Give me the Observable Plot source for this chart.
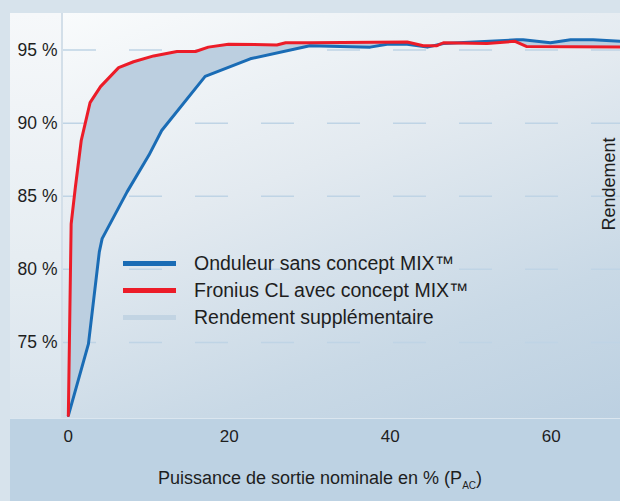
<!DOCTYPE html>
<html><head><meta charset="utf-8">
<script src="https://cdn.jsdelivr.net/npm/d3@7"></script>
<script src="https://cdn.jsdelivr.net/npm/@observablehq/plot@0.6"></script>
<style>
html,body{margin:0;padding:0;background:#d7e3ec;}
#wrap{position:relative;width:620px;height:501px;overflow:hidden;font-family:"Liberation Sans",Arial,sans-serif;color:#1e1e1e;background:#d7e3ec;}
#panel{position:absolute;left:63px;top:13px;width:557px;height:405px;background:linear-gradient(160deg,#f9fbfc 0%,#e3eaf0 40%,#c9d9e6 75%,#bcd0e1 100%);}
#col{position:absolute;left:10px;top:13px;width:51px;height:405px;background:linear-gradient(180deg,#f6f8fa 0%,#e6edf2 60%,#d9e4ed 100%);}
#sep{position:absolute;left:61px;top:13px;width:2px;height:405px;background:#d3dfe9;}
#band{position:absolute;left:10px;top:418px;width:610px;height:83px;background:#bdd2e3;border-top:1px solid #dbe6ef;}
#chart{position:absolute;left:0;top:0;}
.leg{position:absolute;left:123px;font-size:19.5px;line-height:22px;}
.leg div{position:relative;height:27px;}
.leg span.sw{position:absolute;left:0;top:11px;width:53px;height:5px;}
.leg span.tx{position:absolute;left:71px;top:2px;white-space:nowrap;}
#xlab{position:absolute;left:0;width:640px;top:467px;text-align:center;font-size:18px;line-height:22px;}
#xlab sub{font-size:10px;}
#ylab{position:absolute;left:609px;top:184px;transform:translate(-50%,-50%) rotate(-90deg);font-size:18px;white-space:nowrap;}
</style></head>
<body><div id="wrap">
<div id="panel"></div><div id="col"></div><div id="sep"></div><div id="band"></div>
<div id="chart"></div>
<div class="leg" style="top:250px">
 <div><span class="sw" style="background:#1a6cb5"></span><span class="tx">Onduleur sans concept MIX™</span></div>
 <div><span class="sw" style="background:#ec1c28"></span><span class="tx">Fronius CL avec concept MIX™</span></div>
 <div><span class="sw" style="background:#c2d4e3"></span><span class="tx">Rendement supplémentaire</span></div>
</div>
<div id="xlab">Puissance de sortie nominale en % (P<sub>AC</sub>)</div>
<div id="ylab">Rendement</div>
</div>
<script>
// Onduleur sans concept MIX (blue)
const blueX = [0, 2.5, 3.85, 4.2, 7.3, 10, 11.6, 17, 22.6, 30, 37.5, 39.6, 42.1, 44.6, 46.6, 55.7, 56.5, 59.9, 62.4, 65.2, 68.6];
const blueY = [70, 74.9, 81.2, 82.1, 85.3, 87.8, 89.5, 93.2, 94.4, 95.3, 95.2, 95.4, 95.4, 95.2, 95.45, 95.7, 95.7, 95.5, 95.7, 95.7, 95.6];
// Fronius CL avec concept MIX (red)
const redX = [0, 0.35, 0.87, 1.6, 2.7, 4.0, 6.25, 8.1, 10.6, 13.5, 15.8, 17.4, 19.9, 25.9, 27, 30, 42.1, 44.1, 45.8, 46.6, 52, 55.5, 56.9, 68.6];
const redY = [70, 83.1, 85.6, 88.8, 91.4, 92.5, 93.8, 94.2, 94.6, 94.9, 94.9, 95.2, 95.4, 95.35, 95.5, 95.5, 95.55, 95.3, 95.3, 95.5, 95.45, 95.6, 95.25, 95.2];
const yTicks = [75, 80, 85, 90, 95];
const xTicks = [0, 20, 40, 60];

const blue = blueX.map((x, i) => ({x, y: blueY[i]}));
const red = redX.map((x, i) => ({x, y: redY[i]}));
const band = red.concat(blue.slice().reverse());

const chart = Plot.plot({
  width: 620, height: 501,
  marginLeft: 63, marginRight: 0, marginTop: 13, marginBottom: 83,
  style: {background: "transparent", fontFamily: "Liberation Sans, Arial, sans-serif", color: "#1e1e1e", overflow: "visible"},
  x: {domain: [-0.6, 68.6]},
  y: {domain: [69.8, 97.5]},
  marks: [
    Plot.ruleY(yTicks, {stroke: "#bfd4e5", strokeWidth: 1.5, strokeDasharray: "33,33"}),
    Plot.line(band, {x: "x", y: "y", fill: "#bccfe0", stroke: "none", clip: true}),
    Plot.line(blue, {x: "x", y: "y", stroke: "#1a6cb5", strokeWidth: 3, clip: true}),
    Plot.line(red, {x: "x", y: "y", stroke: "#ec1c28", strokeWidth: 3, clip: true}),
    Plot.axisY(yTicks, {tickSize: 0, tickPadding: 6, fontSize: 17.5, tickFormat: d => d + " %", label: null}),
    Plot.axisX(xTicks, {tickSize: 0, tickPadding: 11, fontSize: 17, label: null})
  ]
});
document.getElementById("chart").appendChild(chart);
</script>
</body></html>
